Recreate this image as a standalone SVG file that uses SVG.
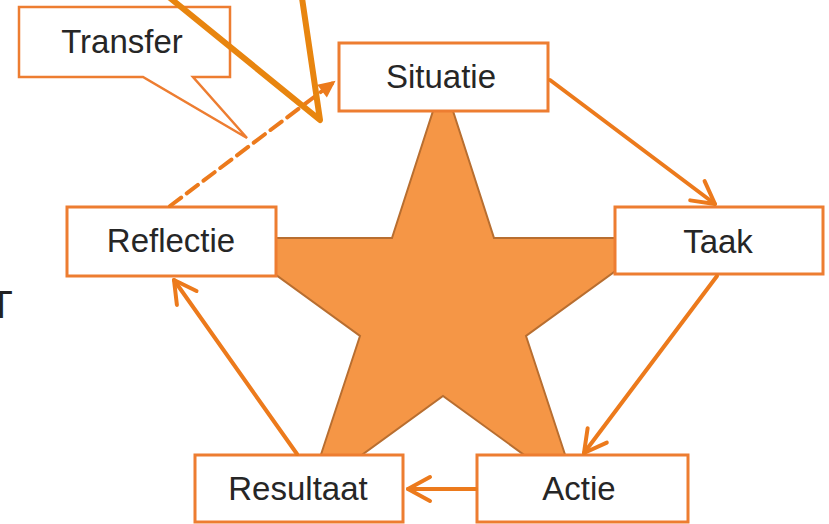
<svg xmlns="http://www.w3.org/2000/svg" width="829" height="524" viewBox="0 0 829 524">
<style>
.box{fill:#fff;stroke:#ED7D31;stroke-width:3}
.lbl{font-family:"Liberation Sans",Arial,sans-serif;font-size:33px;fill:#262626;text-anchor:middle}
.con{fill:none;stroke:#EC7A1C;stroke-width:4;stroke-linecap:round}
</style>
<defs>
<marker id="open" markerUnits="userSpaceOnUse" markerWidth="40" markerHeight="40" viewBox="-30 -20 40 40" refX="0" refY="0" orient="auto" overflow="visible">
<path d="M-22,-12 L0,0 L-22,12" fill="none" stroke="#EC7A1C" stroke-width="4" stroke-linecap="round" stroke-linejoin="round"/>
</marker>
<marker id="tri" markerUnits="userSpaceOnUse" markerWidth="30" markerHeight="30" viewBox="-20 -15 30 30" refX="0" refY="0" orient="auto" overflow="visible">
<path d="M2,0 L-15,-8 L-15,8 Z" fill="#EC7A1C"/>
</marker>
</defs>

<g id="star">
<polygon points="443,80 494,238 661,238 526,336 578,494 443,396 308,494 360,336 225,238 392,238" fill="#F59646" stroke="#B86E30" stroke-width="2" stroke-linejoin="miter"/>
</g>

<g id="situatie"><rect class="box" x="339" y="43" width="209" height="68"/><text class="lbl" x="441" y="88">Situatie</text></g>
<g id="taak"><rect class="box" x="615" y="207" width="208" height="67"/><text class="lbl" x="718" y="253">Taak</text></g>
<g id="actie"><rect class="box" x="477" y="455" width="211" height="67"/><text class="lbl" x="579" y="500">Actie</text></g>
<g id="resultaat"><rect class="box" x="195" y="455" width="208" height="67"/><text class="lbl" x="298" y="500">Resultaat</text></g>
<g id="reflectie"><rect class="box" x="67" y="207" width="209" height="69"/><text class="lbl" x="171" y="252">Reflectie</text></g>

<g id="connectors">
<line class="con" x1="550" y1="80" x2="715" y2="204" marker-end="url(#open)"/>
<line class="con" x1="717" y1="276" x2="584" y2="453" marker-end="url(#open)"/>
<line class="con" x1="476" y1="489" x2="408" y2="489" marker-end="url(#open)"/>
<line class="con" x1="297" y1="454" x2="174" y2="280" marker-end="url(#open)"/>
<line class="con" x1="170" y1="206" x2="334" y2="82" stroke-dasharray="14 7" stroke-linecap="butt" marker-end="url(#tri)"/>
</g>

<g id="transfer">
<path d="M19,7 H230 V77 H193 L247,138 L143,77 H19 Z" fill="#fff" stroke="#ED7D31" stroke-width="2.5" stroke-linejoin="miter"/>
<text class="lbl" x="122" y="53">Transfer</text>
</g>

<g id="pointer">
<polyline points="170,-2 320,120 302,-2" fill="none" stroke="#E8850F" stroke-width="6" stroke-linejoin="round" stroke-linecap="round"/>
</g>

<text x="1" y="318" font-family="Liberation Sans, Arial, sans-serif" font-size="38" fill="#222" text-anchor="middle">T</text>
</svg>
